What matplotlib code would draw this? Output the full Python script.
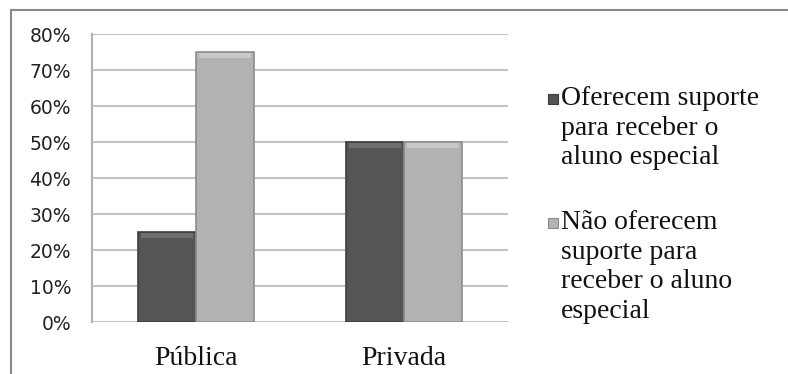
import matplotlib
matplotlib.use("Agg")
import matplotlib.pyplot as plt
import numpy as np
from matplotlib.patches import Rectangle
from matplotlib.lines import Line2D

categorias = ["Pública", "Privada"]
com_suporte = [25, 50]
sem_suporte = [75, 50]
series = ["Oferecem suporte\npara receber o\naluno especial",
          "Não oferecem\nsuporte para\nreceber o aluno\nespecial"]
yticks = [0, 10, 20, 30, 40, 50, 60, 70, 80]

cores = ["#555555", "#b3b3b3"]
bordas = ["#3c3c3c", "#8c8c8c"]
brilho = ["#6e6e6e", "#c8c8c8"]

W, H = 788, 374
fig = plt.figure(figsize=(W / 100, H / 100), dpi=100)
ax = fig.add_axes([92 / W, 1 - 322 / H, 416 / W, 288 / H])

x = np.arange(len(categorias))
larg = 0.28
for valores, desloc, cor, borda, luz in zip([com_suporte, sem_suporte], [-larg / 2, larg / 2],
                                            cores, bordas, brilho):
    ax.bar(x + desloc, valores, larg, color=cor, edgecolor=borda, linewidth=1.2, zorder=3)
    # faixa clara no topo (efeito de relevo)
    topo = np.array(valores, dtype=float)
    ax.bar(x + desloc, [1.4] * len(topo), larg * 0.88, bottom=topo - 1.7,
           color=luz, linewidth=0, zorder=4)

ax.set_xlim(-0.5, 1.5)
ax.set_ylim(0, 80)
ax.set_yticks(yticks)
ax.set_yticklabels([f"{t}%" for t in yticks], fontsize=13.5, family="DejaVu Sans", color="#222222")
ax.set_xticks(x)
ax.set_xticklabels(categorias, fontsize=20, family="Liberation Serif", color="#111111")
ax.tick_params(axis="y", length=0, pad=15)
ax.tick_params(axis="x", length=0, pad=17)
ax.grid(axis="y", color="#c4c4c4", linewidth=1.5, zorder=0)
for lado in ["top", "right", "bottom"]:
    ax.spines[lado].set_visible(False)
ax.spines["left"].set_color("#b0b0b0")
ax.spines["left"].set_linewidth(1.5)

# legenda desenhada à mão
leg_y = [86, 210]
for texto, y0, cor, borda in zip(series, leg_y, cores, bordas):
    fig.text(561 / W, 1 - y0 / H, texto, fontsize=20, family="Liberation Serif",
             va="top", ha="left", linespacing=1.24, color="#111111")
    fig.patches.append(Rectangle((548 / W, 1 - (y0 + 18) / H), 10 / W, 10 / H,
                                 transform=fig.transFigure, facecolor=cor,
                                 edgecolor=borda, linewidth=0.8))

# moldura externa
fig.lines.append(Line2D([11 / W, 11 / W], [0, 1 - 10 / H], transform=fig.transFigure,
                        color="#8a8a8a", linewidth=1.5))
fig.lines.append(Line2D([11 / W, 1], [1 - 10 / H, 1 - 10 / H], transform=fig.transFigure,
                        color="#8a8a8a", linewidth=1.5))

fig.savefig("out.png", dpi=100)
